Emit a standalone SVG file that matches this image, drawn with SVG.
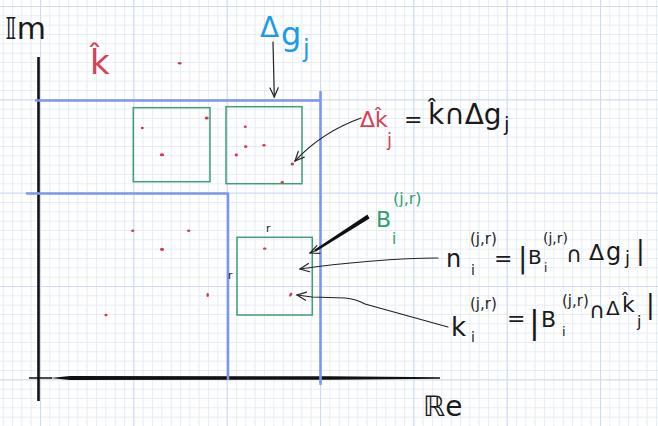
<svg xmlns="http://www.w3.org/2000/svg" width="658" height="426" viewBox="0 0 658 426">
<defs>
<pattern id="minor" x="40" y="6" width="9.3333" height="9.3333" patternUnits="userSpaceOnUse">
<path d="M0.5,0 V9.3333 M0,0.5 H9.3333" stroke="#e4ecf7" stroke-width="1" fill="none"/>
</pattern>
<pattern id="major" x="40" y="6" width="93.333" height="93.333" patternUnits="userSpaceOnUse">
<path d="M0.5,0 V93.333 M0,0.5 H93.333" stroke="#cddcf0" stroke-width="1.2" fill="none"/>
</pattern>
<marker id="ah" viewBox="0 0 12 12" refX="11" refY="6" markerWidth="11" markerHeight="11" orient="auto" markerUnits="userSpaceOnUse">
<path d="M1,1.5 L11,6 L1,10.5" fill="none" stroke="#222" stroke-width="1.3" stroke-linecap="round"/>
</marker>
<style>
.hand{font-family:"DejaVu Sans","Noto Sans",sans-serif;}
.blk{fill:#1a1a1a;}
.red{fill:#d64155;}
.grn{fill:#2f9e6a;}
.blu{fill:#1c9be8;}
.region{stroke:#7b97f3;stroke-width:2.6;fill:none;stroke-linecap:round;}
.box{stroke:#3f9d77;stroke-width:1.5;fill:none;}
.dot{fill:#d8344f;}
.conn{stroke:#222;stroke-width:1.2;fill:none;stroke-linecap:round;}
</style>
</defs>
<rect width="658" height="426" fill="#ffffff"/>
<rect width="658" height="426" fill="url(#minor)"/>
<rect width="658" height="426" fill="url(#major)"/>

<g id="axes">
<line x1="38.5" y1="57" x2="38.5" y2="401" stroke="#111" stroke-width="2.6"/>
<line x1="29" y1="378" x2="52" y2="378" stroke="#111" stroke-width="1.5"/>
<path d="M50,378 L70,376 L330,376.2 L440,377.3 L440,378.7 L330,379.8 L70,380 Z" fill="#111"/>
<text class="hand blk" x="5" y="39" font-size="30">𝕀m</text>
<text class="hand blk" x="423" y="416" font-size="28">ℝe</text>
</g>

<g id="region-delta-g">
<path class="region" d="M36,100.5 H320.5 M320.5,92 V384"/>
<text class="hand blu" x="260" y="37" font-size="28">Δ</text>
<text class="hand blu" x="281" y="45" font-size="32">g</text>
<text class="hand blu" x="303" y="57" font-size="24">j</text>
</g>

<g id="region-lower">
<path class="region" d="M27,193.5 H228 M228,193.5 V379"/>
</g>

<g id="k-hat">
<text class="hand red" x="90" y="74" font-size="34">k̂</text>
<ellipse class="dot" cx="179.7" cy="63.3" rx="1.8" ry="1.2"/>
<ellipse class="dot" cx="132.7" cy="230.7" rx="1.6" ry="1.2"/>
<ellipse class="dot" cx="188.7" cy="230.7" rx="1.6" ry="1.2"/>
<ellipse class="dot" cx="162" cy="249.3" rx="2" ry="1.6"/>
<ellipse class="dot" cx="207.7" cy="295" rx="1.3" ry="1.9"/>
<ellipse class="dot" cx="106" cy="315" rx="1.6" ry="1.3"/>
</g>

<g id="box-1">
<rect class="box" x="133.3" y="107.7" width="76.7" height="74"/>
<ellipse class="dot" cx="142.3" cy="128" rx="1.5" ry="1.2"/>
<ellipse class="dot" cx="206.7" cy="118" rx="2" ry="1.6"/>
<ellipse class="dot" cx="162" cy="154.7" rx="2.2" ry="1.5"/>
</g>

<g id="box-2">
<rect class="box" x="226" y="106.7" width="76" height="77"/>
<ellipse class="dot" cx="245.3" cy="126.7" rx="1.5" ry="1.2"/>
<ellipse class="dot" cx="245.7" cy="146.7" rx="1.7" ry="1.4"/>
<ellipse class="dot" cx="264" cy="145.3" rx="1.7" ry="1.3"/>
<ellipse class="dot" cx="236.3" cy="155" rx="1.7" ry="1.4"/>
<ellipse class="dot" cx="292.3" cy="164" rx="1.7" ry="1.5"/>
<ellipse class="dot" cx="282.3" cy="182.3" rx="1.6" ry="1.3"/>
</g>

<g id="box-B">
<rect class="box" x="237" y="237.3" width="75.3" height="77.7"/>
<ellipse class="dot" cx="264.7" cy="248.7" rx="1.8" ry="1.1"/>
<ellipse class="dot" cx="290.7" cy="294.7" rx="1.3" ry="2.2" transform="rotate(30 290.7 294.7)"/>
<text class="hand blk" x="266" y="232" font-size="11">r</text>
<text class="hand blk" x="228" y="279" font-size="11">r</text>
</g>

<g id="label-delta-k">
<text class="hand red" x="360" y="127" font-size="22">Δk̂</text>
<text class="hand red" x="387" y="146" font-size="18">j</text>
<text class="hand blk" x="404" y="127" font-size="22">=</text>
<text class="hand blk" x="428" y="124" font-size="28">k̂∩Δg</text>
<text class="hand blk" x="504" y="131" font-size="20">j</text>
</g>

<g id="label-B">
<text class="hand grn" x="376" y="227" font-size="22">B</text>
<text class="hand grn" x="393" y="204" font-size="16">(j,r)</text>
<text class="hand grn" x="392" y="244" font-size="15">i</text>
</g>

<g id="label-n">
<text class="hand blk" x="446" y="267" font-size="24">n</text>
<text class="hand blk" x="470" y="244" font-size="15">(j,r)</text>
<text class="hand blk" x="471" y="275" font-size="14">i</text>
<text class="hand blk" x="494" y="266" font-size="22">=</text>
<text class="hand blk" x="518" y="268" font-size="28">|</text>
<text class="hand blk" x="528" y="264" font-size="20">B</text>
<text class="hand blk" x="543" y="243" font-size="14">(j,r)</text>
<text class="hand blk" x="544" y="272" font-size="12">i</text>
<text class="hand blk" x="566" y="262" font-size="22">∩</text>
<text class="hand blk" x="589" y="260" font-size="22">Δ</text>
<text class="hand blk" x="606" y="260" font-size="24">g</text>
<text class="hand blk" x="625" y="264" font-size="18">j</text>
<text class="hand blk" x="636" y="259" font-size="26">|</text>
</g>

<g id="label-k">
<text class="hand blk" x="451" y="336" font-size="26">k</text>
<text class="hand blk" x="470" y="309" font-size="15">(j,r)</text>
<text class="hand blk" x="471" y="342" font-size="14">i</text>
<text class="hand blk" x="507" y="326" font-size="22">=</text>
<text class="hand blk" x="529" y="333" font-size="32">|</text>
<text class="hand blk" x="541" y="327" font-size="22">B</text>
<text class="hand blk" x="562" y="306" font-size="15">(j,r)</text>
<text class="hand blk" x="562" y="336" font-size="13">i</text>
<text class="hand blk" x="589" y="318" font-size="22">∩</text>
<text class="hand blk" x="606" y="315" font-size="20">Δ</text>
<text class="hand blk" x="622" y="312" font-size="22">k̂</text>
<text class="hand blk" x="637" y="327" font-size="16">j</text>
<text class="hand blk" x="646" y="313" font-size="26">|</text>
</g>

<g id="connectors">
<path class="conn" d="M273,42 L274.3,97" marker-end="url(#ah)"/>
<path class="conn" d="M361,118 Q322,132 295,161" marker-end="url(#ah)"/>
<path d="M367.5,214.5 L369.5,218.5 L316,251.5 L314,250 Z" fill="#111"/>
<path class="conn" d="M316,250.5 L310,253" marker-end="url(#ah)"/>
<path class="conn" d="M438,258 C400,258 340,263 300,269" marker-end="url(#ah)"/>
<path class="conn" d="M448,327 L365,304 Q356,299 345,298 L312,297 L297,295" marker-end="url(#ah)"/>
</g>
</svg>
